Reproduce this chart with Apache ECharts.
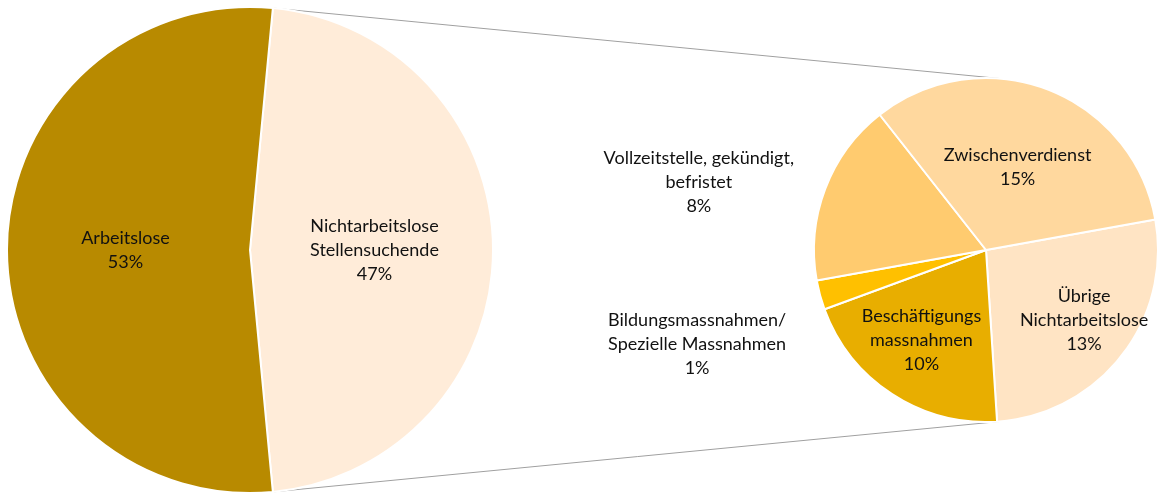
<!DOCTYPE html>
<html>
<head>
<meta charset="utf-8">
<script src="https://cdn.jsdelivr.net/npm/echarts@6/dist/echarts.min.js"></script>
<style>
    html, body { margin: 0; padding: 0; background: #fff; }
    #chart { width: 1160px; height: 494px; }
</style>
</head>
<body>
<div id="chart"></div>
<script>
// Hauptkreis: Stellensuchende total
const mainNames = ['Nichtarbeitslose\nStellensuchende', 'Arbeitslose'];
const mainValues = [47, 53];

// Aufteilung der Nichtarbeitslosen (Anteil am Total in %)
const subNames = [
    'Übrige\nNichtarbeitslose',
    'Beschäftigungs\nmassnahmen',
    'Bildungsmassnahmen/\nSpezielle Massnahmen',
    'Vollzeitstelle, gekündigt,\nbefristet',
    'Zwischenverdienst'
];
const subValues = [12.6, 9.6, 1.3, 8.1, 15.4];

// Farben
const mainColors = ['#FFECD9', '#B88A00'];
const subColors = ['#FFE4C4', '#E8AE00', '#FFC000', '#FFCB6F', '#FFD89E'];

// Verschiebung der Beschriftungen (px) gegenüber der Standardposition
const subLabelShift = [[28, 15], [-16, 16], [-203, 71], [-204, -36], [0, 0]];

const mainCenter = [250, 250], mainRadius = 243;
const subCenter = [986, 250], subRadius = 172;
const subStartAngle = 10.2;

const fontFamily = 'Lato, "Noto Sans", sans-serif';

// Nichtarbeitslose zentriert um 0 Grad
const mainTotal = mainValues.reduce((a, b) => a + b, 0);
const mainStartAngle = mainValues[0] / mainTotal * 180;

// Verbindungslinien: Tangenten vom Trennpunkt zum kleinen Kreis
function tangentPoint(p, c, r, upper) {
    const dx = p[0] - c[0], dy = p[1] - c[1];
    const d = Math.sqrt(dx * dx + dy * dy);
    const phi = Math.atan2(dy, dx);
    const a = Math.acos(r / d);
    const t1 = [c[0] + r * Math.cos(phi + a), c[1] + r * Math.sin(phi + a)];
    const t2 = [c[0] + r * Math.cos(phi - a), c[1] + r * Math.sin(phi - a)];
    if (upper) return t1[1] < t2[1] ? t1 : t2;
    return t1[1] > t2[1] ? t1 : t2;
}

const rad = mainStartAngle * Math.PI / 180;
const pTop = [mainCenter[0] + mainRadius * Math.cos(rad), mainCenter[1] - mainRadius * Math.sin(rad)];
const pBottom = [mainCenter[0] + mainRadius * Math.cos(rad), mainCenter[1] + mainRadius * Math.sin(rad)];
const tTop = tangentPoint(pTop, subCenter, subRadius, true);
const tBottom = tangentPoint(pBottom, subCenter, subRadius, false);

const chart = echarts.init(document.getElementById('chart'));

const labelStyle = {
    show: true,
    position: 'inside',
    color: '#111',
    fontFamily: fontFamily,
    fontSize: 18,
    lineHeight: 24,
    formatter: p => p.name + '\n' + Math.round(p.value) + '%'
};

chart.setOption({
    animation: false,
    graphic: [
        {
            type: 'line', z: 0,
            shape: {x1: pTop[0], y1: pTop[1], x2: tTop[0], y2: tTop[1]},
            style: {stroke: '#A0A0A0', lineWidth: 1}
        },
        {
            type: 'line', z: 0,
            shape: {x1: pBottom[0], y1: pBottom[1], x2: tBottom[0], y2: tBottom[1]},
            style: {stroke: '#A0A0A0', lineWidth: 1}
        }
    ],
    series: [
        {
            type: 'pie',
            center: mainCenter,
            radius: mainRadius,
            startAngle: mainStartAngle,
            clockwise: true,
            silent: true,
            itemStyle: {borderColor: '#fff', borderWidth: 2},
            label: labelStyle,
            labelLine: {show: false},
            data: mainNames.map((n, i) => ({name: n, value: mainValues[i], itemStyle: {color: mainColors[i]}}))
        },
        {
            type: 'pie',
            center: subCenter,
            radius: subRadius,
            startAngle: subStartAngle,
            clockwise: true,
            silent: true,
            itemStyle: {borderColor: '#fff', borderWidth: 2},
            label: labelStyle,
            labelLine: {show: false},
            labelLayout: function (p) {
                const s = subLabelShift[p.dataIndex];
                const r = p.labelRect;
                return {
                    x: r.x + r.width / 2 + s[0],
                    y: r.y + r.height / 2 + s[1],
                    align: 'center',
                    verticalAlign: 'middle'
                };
            },
            data: subNames.map((n, i) => ({name: n, value: subValues[i], itemStyle: {color: subColors[i]}}))
        }
    ]
});
</script>
</body>
</html>
